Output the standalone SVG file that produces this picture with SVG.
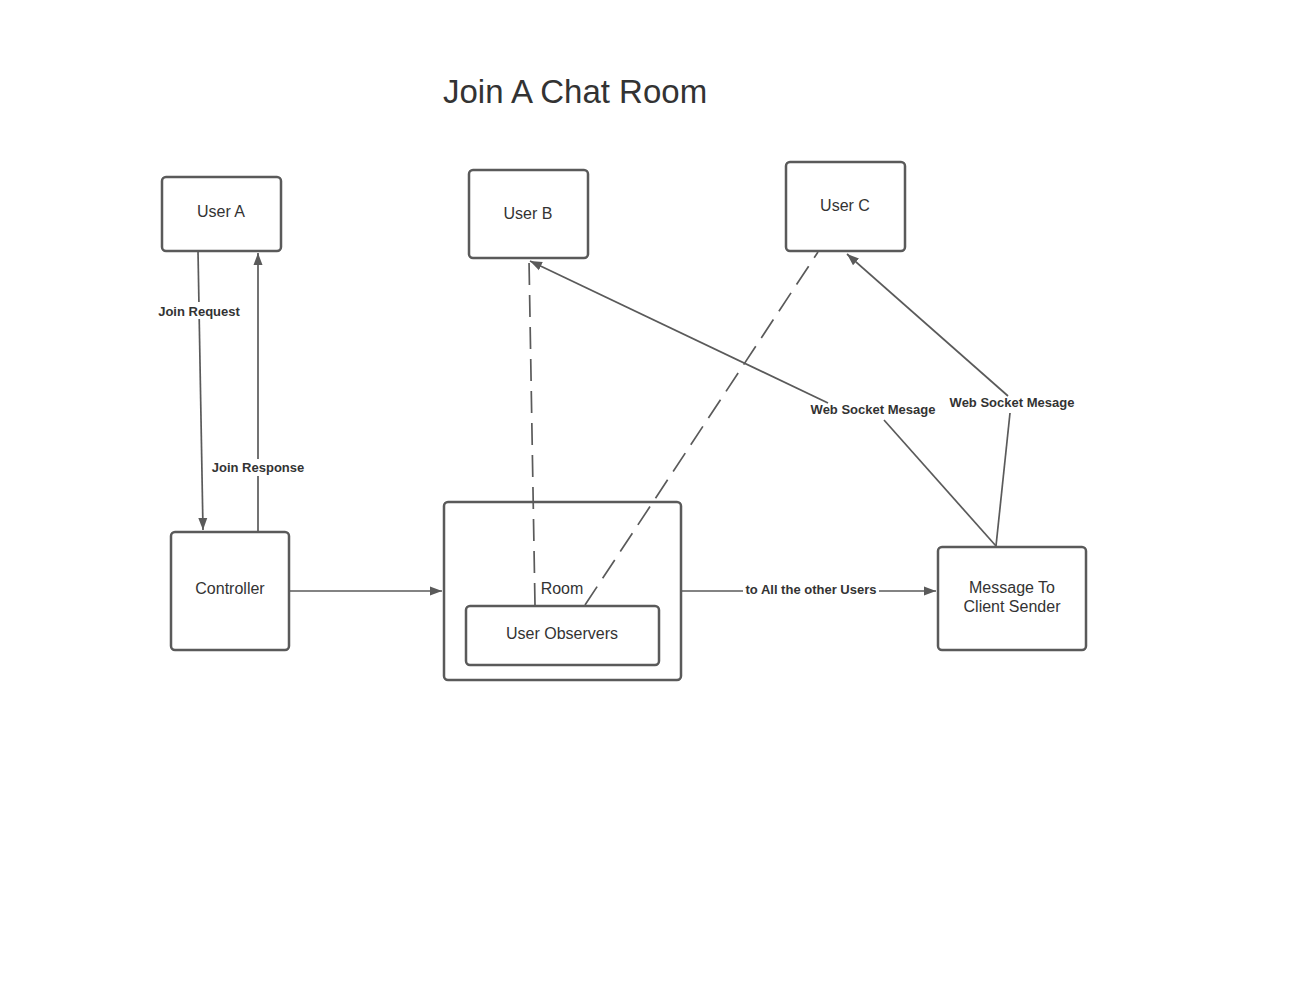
<svg xmlns="http://www.w3.org/2000/svg" width="1300" height="1005" viewBox="0 0 1300 1005">
<style>
.node rect{fill:#fff;stroke:#5a5a5a;stroke-width:2.5}
.lbl{font-family:"Liberation Sans",Arial,sans-serif;font-size:16px;fill:#333;text-anchor:middle;dominant-baseline:central}
.elbl{font-family:"Liberation Sans",Arial,sans-serif;font-size:13px;font-weight:bold;fill:#333;text-anchor:middle;dominant-baseline:central}
.bg{fill:#fff}
.c{fill:none;stroke:#5a5a5a;stroke-width:1.7}
.d{fill:none;stroke:#5a5a5a;stroke-width:1.7;stroke-dasharray:22 10}
</style>
<defs>
<marker id="ah" viewBox="0 0 12 10" refX="12" refY="5" markerWidth="12" markerHeight="10" markerUnits="userSpaceOnUse" orient="auto">
<path d="M0,0.5 L12,5 L0,9.5 Z" fill="#5a5a5a"/>
</marker>
</defs>
<rect width="1300" height="1005" fill="#fff"/>
<text x="443" y="103" font-family="Liberation Sans,Arial,sans-serif" font-size="33" fill="#333">Join A Chat Room</text>

<g id="connectors">
<path class="c" d="M198,251 L203,530" marker-end="url(#ah)"/>
<path class="c" d="M258,532 L258,253" marker-end="url(#ah)"/>
<path class="c" d="M289,591 L442,591" marker-end="url(#ah)"/>
<path class="c" d="M681,591 L936,591" marker-end="url(#ah)"/>
<path class="d" d="M535,605 L529,260"/>
<path class="d" d="M585,605 L818,252"/>
<path class="c" d="M996,546 L884,420"/>
<path class="c" d="M828,403 L530,261" marker-end="url(#ah)"/>
<path class="c" d="M996,546 L1010,413"/>
<path class="c" d="M1008,396 L847,254" marker-end="url(#ah)"/>
<rect class="bg" x="157" y="302" width="85" height="17"/>
<text class="elbl" x="199" y="311">Join Request</text>
<rect class="bg" x="210" y="459" width="96" height="17"/>
<text class="elbl" x="258" y="467">Join Response</text>
<rect class="bg" x="743" y="581" width="136" height="17"/>
<text class="elbl" x="811" y="589">to All the other Users</text>
<text class="elbl" x="873" y="409">Web Socket Mesage</text>
<text class="elbl" x="1012" y="402">Web Socket Mesage</text>
</g>

<g id="userA" class="node"><rect x="162" y="177" width="119" height="74" rx="4"/><text class="lbl" x="221" y="211">User A</text></g>
<g id="userB" class="node"><rect x="469" y="170" width="119" height="88" rx="4"/><text class="lbl" x="528" y="213">User B</text></g>
<g id="userC" class="node"><rect x="786" y="162" width="119" height="89" rx="4"/><text class="lbl" x="845" y="205">User C</text></g>
<g id="controller" class="node"><rect x="171" y="532" width="118" height="118" rx="4"/><text class="lbl" x="230" y="588">Controller</text></g>
<g id="room" class="node"><rect x="444" y="502" width="237" height="178" rx="4" style="fill:none"/><text class="lbl" x="562" y="588">Room</text></g>
<g id="userObservers" class="node"><rect x="466" y="606" width="193" height="59" rx="4"/><text class="lbl" x="562" y="633">User Observers</text></g>
<g id="messageSender" class="node"><rect x="938" y="547" width="148" height="103" rx="4"/><text class="lbl" x="1012" y="587">Message To</text><text class="lbl" x="1012" y="606">Client Sender</text></g>
</svg>
